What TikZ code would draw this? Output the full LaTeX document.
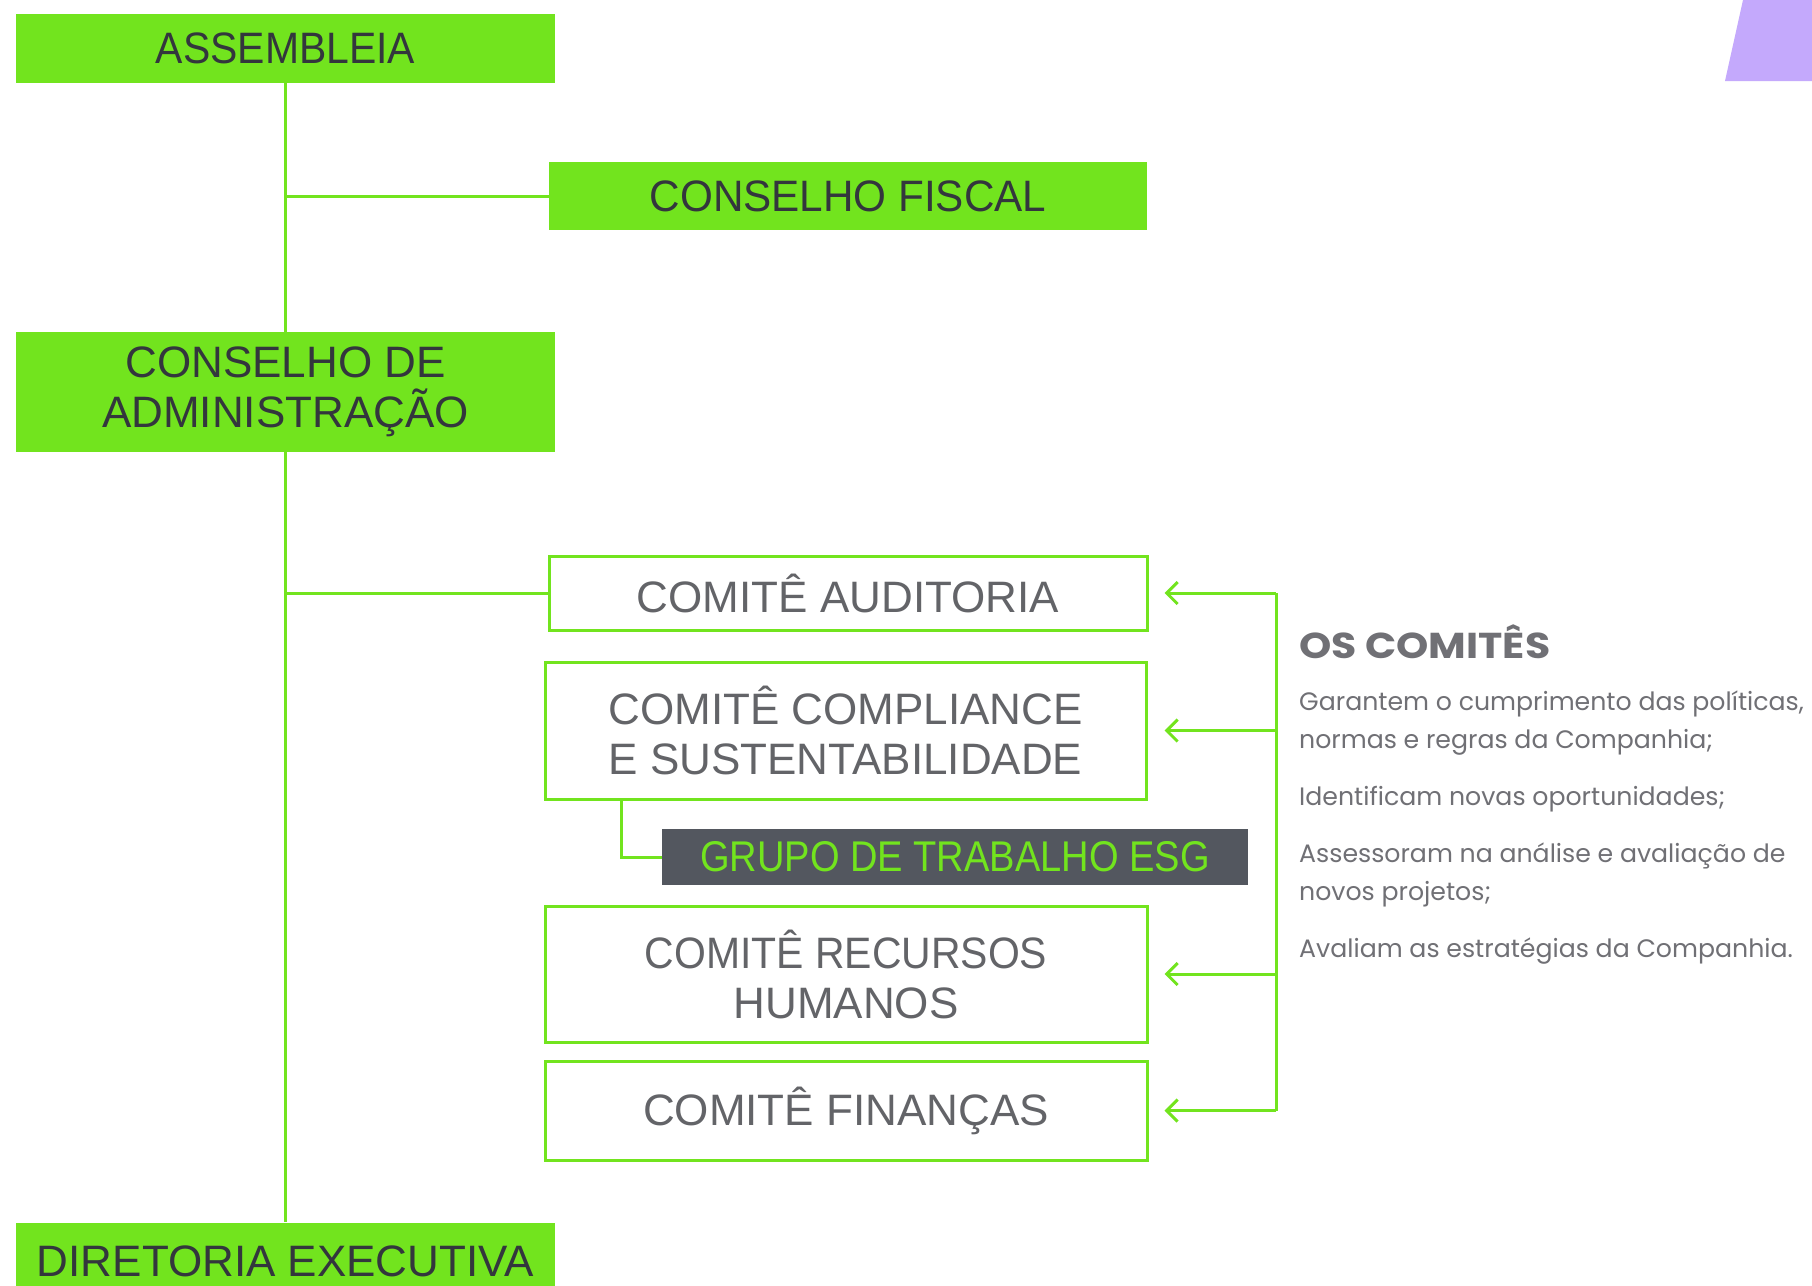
\documentclass[tikz,border=0pt]{standalone}
\usepackage{fontspec}
\setmainfont{Liberation Sans}
\newfontfamily\sidefont{Poppins}
\newfontfamily\sideheadfont[FakeStretch=1.14]{Poppins}
\newfontfamily\narrowfont[FakeStretch=0.93]{Liberation Sans}
\newfontfamily\midfont[FakeStretch=0.96]{Liberation Sans}
\newfontfamily\esgfont[FakeStretch=0.885]{Liberation Sans}
\usetikzlibrary{arrows.meta,calc}
\definecolor{lime}{HTML}{72E41E}
\definecolor{darktxt}{HTML}{33363D}
\definecolor{greytxt}{HTML}{636468}
\definecolor{esgfill}{HTML}{53575F}
\definecolor{sidetxt}{HTML}{707075}
\definecolor{lilac}{HTML}{C4A9FC}
\tikzset{
  mainbox/.style={fill=lime, draw=none, inner sep=0pt, align=center, text=darktxt,
    font=\fontsize{44}{50}\selectfont},
  combox/.style={fill=white, draw=lime, line width=3pt, inner sep=0pt, align=center, text=greytxt,
    font=\fontsize{44}{50}\selectfont},
  esgbox/.style={fill=esgfill, draw=none, inner sep=0pt, align=center, text=lime,
    font=\esgfont\fontsize{43}{48}\selectfont},
  link/.style={draw=lime, line width=3pt},
  arr/.style={draw=lime, line width=3pt, -{Straight Barb[length=11pt,width=22pt,line width=3pt]}},
  sidehead/.style={inner sep=0pt, anchor=west, text=sidetxt, font=\sideheadfont\fontsize{36}{40}\bfseries\selectfont},
  sidepara/.style={inner sep=0pt, anchor=west, align=left, text=sidetxt, font=\sidefont\fontsize{25.2}{38}\selectfont}
}
\begin{document}
\begin{tikzpicture}[x=1pt,y=-1pt]
\useasboundingbox (0,0) rectangle (1812,1285);
\fill[white] (0,0) rectangle (1812,1285);
% decorative lilac shape
\fill[lilac] (1743,0) -- (1812,0) -- (1812,81) -- (1725,81) -- cycle;

% main column
\node[mainbox, font=\narrowfont\fontsize{44}{50}\selectfont, minimum width=539pt, minimum height=69pt] (asm) at (285.5,48.5) {ASSEMBLEIA};
\node[mainbox, font=\midfont\fontsize{44}{50}\selectfont, minimum width=598pt, minimum height=68pt] (cf) at (848,196) {CONSELHO FISCAL};
\node[mainbox, minimum width=539pt, minimum height=120pt] (ca) at (285.5,392) {CONSELHO DE\\ADMINISTRAÇÃO};
\node[mainbox, minimum width=539pt, minimum height=77pt] (dir) at (285.5,1261) {DIRETORIA EXECUTIVA};

% committees
\node[combox, minimum width=598pt, minimum height=74pt] (aud) at (848,593) {COMITÊ AUDITORIA};
\node[combox, minimum width=601pt, minimum height=137pt] (comp) at (845.5,730.5) {COMITÊ COMPLIANCE\\E SUSTENTABILIDADE};
\node[esgbox, minimum width=586pt, minimum height=56pt] (esg) at (955,857) {GRUPO DE TRABALHO ESG};
\node[combox, minimum width=602pt, minimum height=136pt] (rh) at (846,974) {{\narrowfont COMITÊ RECURSOS}\\HUMANOS};
\node[combox, minimum width=602pt, minimum height=99pt] (fin) at (846,1110.5) {COMITÊ FINANÇAS};

% connectors
\draw[link] (asm.south) -- (ca.north);
\draw[link] (ca.south) -- (dir.north);
\draw[link] (asm.south |- cf.west) -- (cf.west);
\draw[link] (asm.south |- aud.west) -- (aud.west);
\coordinate (esgtop) at (621,0);
\draw[link] (esgtop |- comp.south) |- (esg.west);

% right bracket with arrows
\coordinate (br) at (1276,0);
\draw[link] (br |- aud.east) -- (br |- fin.east);
\draw[arr] (br |- aud.east) -- ($(aud.east)+(16,0)$);
\draw[arr] (br |- comp.east) -- ($(comp.east)+(17,0)$);
\draw[arr] (br |- rh.east) -- ($(rh.east)+(16,0)$);
\draw[arr] (br |- fin.east) -- ($(fin.east)+(16,0)$);

% side texts
\node[sidehead] (head) at (1299,642) {OS COMITÊS};
\node[sidepara] (p1) at (1299,723) {Garantem o cumprimento das políticas,\\normas e regras da Companhia;};
\node[sidepara] (p2) at (1299,799) {Identificam novas oportunidades;};
\node[sidepara] (p3) at (1299,875) {Assessoram na análise e avaliação de\\novos projetos;};
\node[sidepara] (p4) at (1299,951) {Avaliam as estratégias da Companhia.};
\end{tikzpicture}
\end{document}
